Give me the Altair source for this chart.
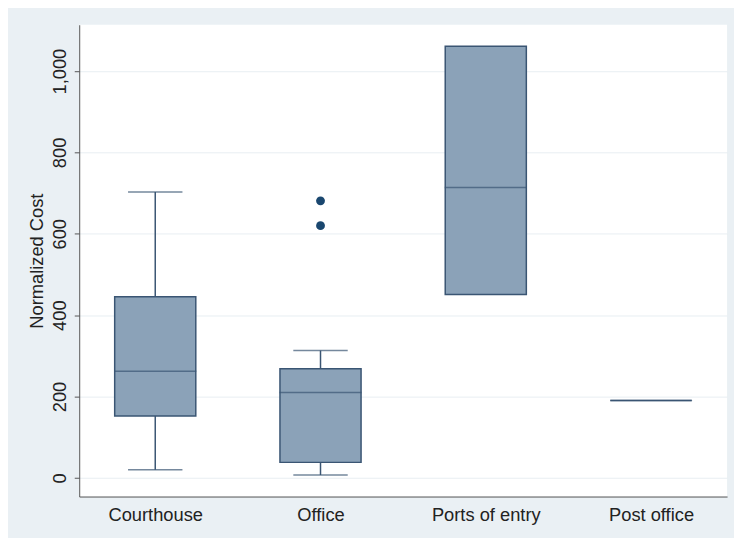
import altair as alt
import pandas as pd

categories = ["Courthouse", "Office", "Ports of entry", "Post office"]
lower_whisker = [20, 7, 451, 190]
q1 = [152, 38, 451, 190]
median = [262, 210, 714, 190]
q3 = [445, 268, 1061, 190]
upper_whisker = [703, 313, 1061, 190]

outlier_cat = ["Office", "Office"]
outlier_val = [681, 620]

stats = pd.DataFrame({
    "cat": categories,
    "lw": lower_whisker,
    "q1": q1,
    "med": median,
    "q3": q3,
    "uw": upper_whisker,
})
outliers = pd.DataFrame({"cat": outlier_cat, "val": outlier_val})

FILL = "#8ba2b8"
STROKE = "#3a5573"
DOT = "#1a476f"

x = alt.X("cat:N", sort=categories, title=None,
          scale=alt.Scale(type="point", padding=0.46),
          axis=alt.Axis(labelAngle=0, ticks=False, domain=True, grid=False,
                        labelPadding=9))
yscale = alt.Scale(domain=[-46, 1114], nice=False, zero=False)
yaxis = alt.Axis(values=[0, 200, 400, 600, 800, 1000], format=",.0f", labelAngle=270,
                 labelPadding=5, tickSize=5, titlePadding=4)

base = alt.Chart(stats)

whisk_low = base.mark_rule(color=STROKE, strokeWidth=1.5).encode(
    x=x, y=alt.Y("lw:Q", scale=yscale, axis=yaxis, title="Normalized Cost"), y2="q1:Q")
whisk_high = base.mark_rule(color=STROKE, strokeWidth=1.5).encode(
    x=x, y=alt.Y("q3:Q"), y2="uw:Q")
caps_low = base.transform_filter("datum.lw < datum.q1").mark_tick(
    color=STROKE, size=55, thickness=1.5).encode(x=x, y="lw:Q")
caps_high = base.transform_filter("datum.uw > datum.q3").mark_tick(
    color=STROKE, size=55, thickness=1.5).encode(x=x, y="uw:Q")
box = base.mark_bar(size=82, fill=FILL, stroke=STROKE, strokeWidth=1.5).encode(
    x=x, y="q1:Q", y2="q3:Q")
med = base.mark_tick(color=STROKE, size=83, thickness=1.5).encode(x=x, y="med:Q")
pts = alt.Chart(outliers).mark_circle(size=80, color=DOT, opacity=1).encode(
    x=x, y="val:Q")

chart = alt.layer(whisk_low, whisk_high, caps_low, caps_high, box, med, pts).properties(
    width=655, height=477,
    autosize=alt.AutoSizeParams(type="none"),
    padding={"left": 72, "top": 14, "right": 7, "bottom": 39},
    background="#eaf0f4",
).configure_view(fill="white", stroke=None).configure_axis(
    labelFont="Liberation Sans", labelFontSize=18.5, labelColor="#222",
    titleFont="Liberation Sans", titleFontSize=18.5, titleFontWeight="normal",
    titleColor="#222", domainColor="#555", tickColor="#555", gridColor="#e8eef2",
)

chart.save("out.html", embed_options={"renderer": "svg", "actions": False})
